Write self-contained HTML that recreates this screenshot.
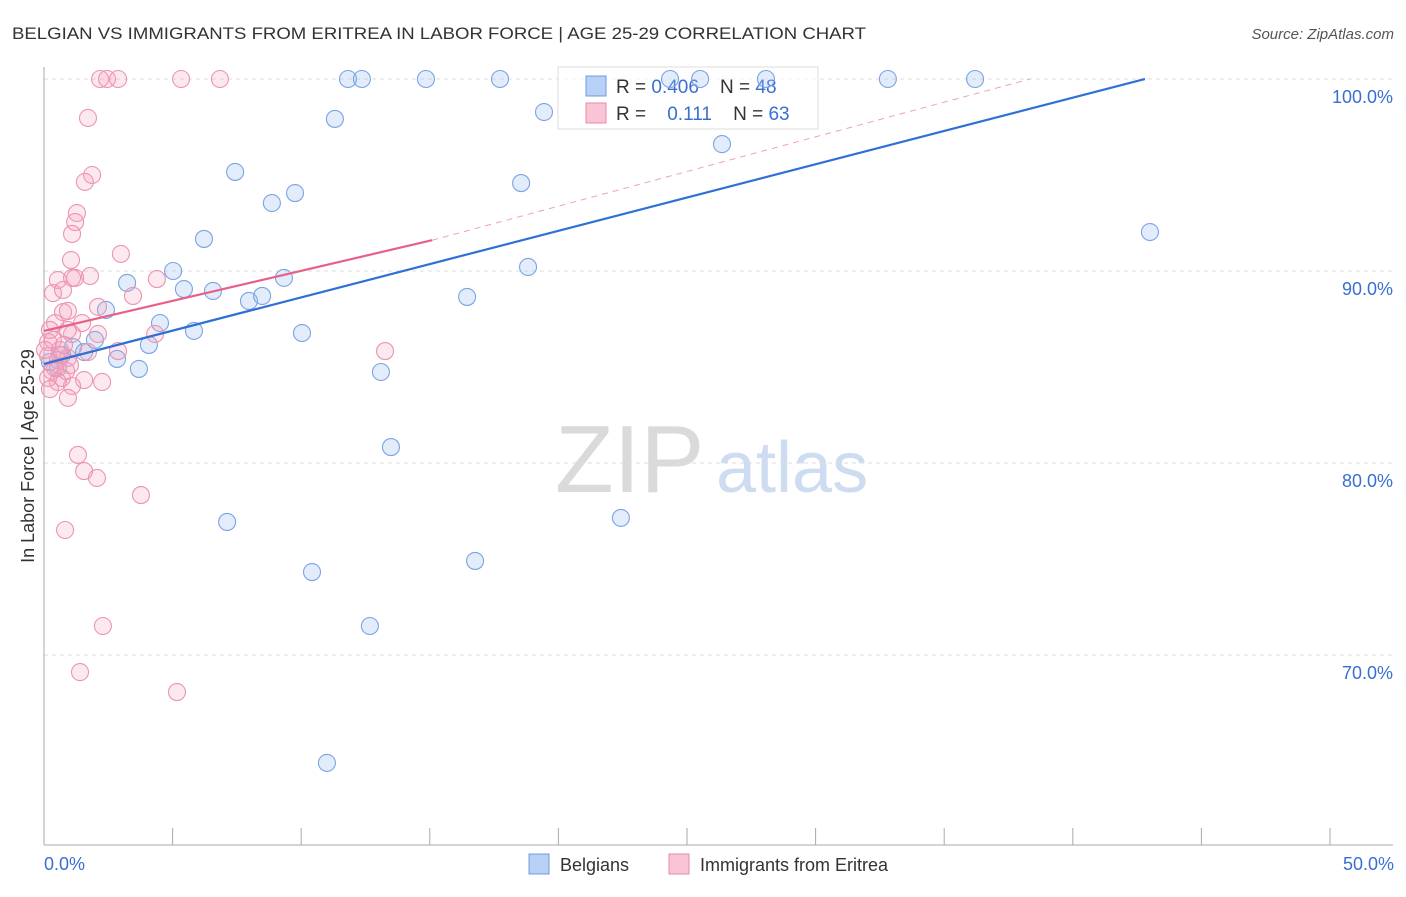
<!DOCTYPE html>
<html><head><meta charset="utf-8"><style>
body{margin:0;background:#fff;font-family:"Liberation Sans",sans-serif;}
svg text{font-family:"Liberation Sans",sans-serif;}
</style></head><body>
<svg id="c" width="1406" height="892">
<text x="12" y="39" font-size="17" fill="#333" textLength="854" lengthAdjust="spacingAndGlyphs">BELGIAN VS IMMIGRANTS FROM ERITREA IN LABOR FORCE | AGE 25-29 CORRELATION CHART</text>
<text x="1394" y="39" font-size="15" fill="#555" text-anchor="end" font-style="italic">Source: ZipAtlas.com</text>
<text x="555" y="492" font-size="96" fill="#dadada" font-family="Liberation Serif,serif">ZIP</text>
<text x="716" y="492" font-size="72" fill="#cddcf0">atlas</text>
<g id="grid"></g><g id="axes"></g>
<g>
<rect x="558" y="67" width="260" height="62" fill="#fff" fill-opacity="0.7" stroke="#ddd"/>
<rect x="586" y="76" width="20" height="20" fill="#b8d0f5" stroke="#6e9ce0"/>
<rect x="586" y="103" width="20" height="20" fill="#f9c5d5" stroke="#e88aaa"/>
<text x="616" y="93" font-size="19" fill="#333" xml:space="preserve">R = <tspan fill="#3a6fd0">0.406</tspan>    N = <tspan fill="#3a6fd0">48</tspan></text>
<text x="616" y="120" font-size="19" fill="#333" xml:space="preserve">R =    <tspan fill="#3a6fd0">0.111</tspan>    N = <tspan fill="#3a6fd0">63</tspan></text>
</g>
<g id="pts"></g><g id="lines"></g>
<text transform="translate(34,456) rotate(-90)" font-size="18" fill="#333" text-anchor="middle">In Labor Force | Age 25-29</text>
<text x="44" y="870" font-size="18" fill="#3a6fd0">0.0%</text>
<text x="1394" y="870" font-size="18" fill="#3a6fd0" text-anchor="end">50.0%</text>
<g><rect x="529" y="854" width="20" height="20" fill="#b8d0f5" stroke="#6e9ce0"/><text x="560" y="871" font-size="18" fill="#333">Belgians</text></g>
<g><rect x="669" y="854" width="20" height="20" fill="#f9c5d5" stroke="#e88aaa"/><text x="700" y="871" font-size="18" fill="#333">Immigrants from Eritrea</text></g>
</svg>
<script>
const yTicks=[100,90,80,70];
const yTickLabels=["100.0%","90.0%","80.0%","70.0%"];
const xTicks=[0,5,10,15,20,25,30,35,40,45,50];
const blueX=[11.82,12.36,14.85,17.73,24.34,25.51,28.07,32.81,36.2,11.31,19.44,26.36,7.43,18.55,9.76,8.86,43.0,6.22,18.82,5.02,9.33,3.23,5.44,6.57,7.97,8.48,16.45,2.41,4.51,5.83,10.03,1.98,4.08,1.13,1.56,2.84,3.69,13.1,0.54,13.49,22.43,7.12,16.76,10.42,12.67,11.0,0.7,0.23];
const blueY=[100,100,100,100,100,100,100,100,100,97.92,98.28,96.61,95.16,94.58,94.06,93.54,92.03,91.67,90.21,90.0,89.64,89.38,89.06,88.96,88.44,88.7,88.65,87.97,87.29,86.88,86.77,86.41,86.15,86.04,85.78,85.42,84.9,84.74,84.95,80.83,77.14,76.93,74.9,74.32,71.51,64.38,85.63,85.26];
const pinkX=[2.18,2.45,2.88,5.33,6.84,1.71,1.87,1.59,1.28,1.21,1.09,2.99,1.05,0.54,1.79,1.21,1.09,4.39,0.35,0.74,3.46,2.1,0.93,0.74,1.48,0.43,2.1,1.09,4.32,0.35,0.16,2.88,13.26,0.62,0.93,0.16,0.54,1.01,0.31,0.7,0.16,1.56,2.26,0.54,1.09,0.23,0.93,1.32,1.56,2.06,3.77,0.82,2.29,1.4,5.17,0.43,0.86,0.04,0.62,1.71,0.78,0.23,0.93];
const pinkY=[100,100,100,100,100,97.97,95.0,94.64,93.02,92.55,91.93,90.89,90.57,89.53,89.74,89.64,89.64,89.58,88.85,89.01,88.7,88.13,87.92,87.86,87.29,87.29,86.72,86.72,86.72,86.41,86.3,85.83,85.83,85.63,85.47,85.57,85.36,85.1,84.79,84.43,84.43,84.32,84.22,84.22,84.01,83.85,83.39,80.42,79.58,79.22,78.33,76.51,71.51,69.11,68.07,84.95,84.79,85.89,85.89,85.78,86.15,86.93,86.93];
const blueFit=[85.16,0.3467];
const pinkFit=[86.88,0.313];
const X=v=>44+v*25.72, Y=v=>79+(100-v)*19.2;
const NS="http://www.w3.org/2000/svg";
function mk(t,a,p){const e=document.createElementNS(NS,t);for(const k in a)e.setAttribute(k,a[k]);document.getElementById(p).appendChild(e);return e;}
yTicks.forEach((t,i)=>{
 const l=mk('line',{x1:44,x2:1393,y1:Y(t),y2:Y(t),stroke:'#ddd','stroke-dasharray':'4,4'},'grid');
 
 
 const tx=mk('text',{x:1393,y:Y(t)+24,'font-size':18,fill:'#3a6fd0','text-anchor':'end'},'grid');
 tx.textContent=yTickLabels[i];
 
 
});
const ax=mk('line',{x1:44,x2:44,y1:67,y2:845,stroke:'#aaa'},'axes');


const bx=mk('line',{x1:44,x2:1393,y1:845,y2:845,stroke:'#aaa'},'axes');


xTicks.forEach(t=>{const l=mk('line',{x1:X(t),x2:X(t),y1:828,y2:845,stroke:'#aaa'},'axes');
 
 });
blueX.forEach((x,i)=>{const c=mk('circle',{cx:X(x),cy:Y(blueY[i]),r:8.5,fill:'rgba(160,192,240,0.3)',stroke:'#7aa4e2','stroke-width':1.1},'pts');
 
 });
pinkX.forEach((x,i)=>{const c=mk('circle',{cx:X(x),cy:Y(pinkY[i]),r:8.5,fill:'rgba(245,165,190,0.25)',stroke:'#ec94b2','stroke-width':1.1},'pts');
 
 });
const bEnd=(100-blueFit[0])/blueFit[1];
const bl=mk('line',{x1:X(0),y1:Y(blueFit[0]),x2:X(bEnd),y2:Y(100),stroke:'#2f6fd6','stroke-width':2.2},'lines');


const pl=mk('line',{x1:X(0),y1:Y(pinkFit[0]),x2:X(15.09),y2:Y(pinkFit[0]+pinkFit[1]*15.09),stroke:'#e8608a','stroke-width':2.2},'lines');


const pd=mk('line',{x1:X(15.09),y1:Y(pinkFit[0]+pinkFit[1]*15.09),x2:X(38.34),y2:Y(100),stroke:'#f0a0b8','stroke-width':1,'stroke-dasharray':'6,5'},'lines');


</script>
</body></html>
